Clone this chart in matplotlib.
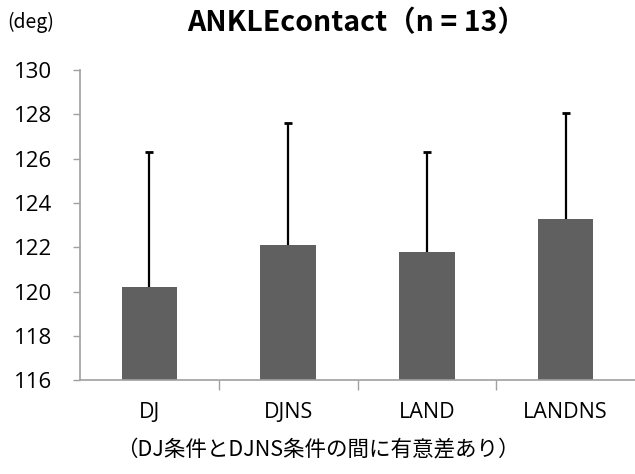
import matplotlib
matplotlib.use('Agg')
import matplotlib.pyplot as plt

# DATA
conditions = ['DJ', 'DJNS', 'LAND', 'LANDNS']
means = [120.2, 122.1, 121.8, 123.3]
sd = [6.1, 5.5, 4.5, 4.75]
yticks = [116, 118, 120, 122, 124, 126, 128, 130]

plt.rcParams['font.family'] = ['Open Sans', 'DejaVu Sans']
jp = ['Noto Sans CJK JP', 'DejaVu Sans']

fig = plt.figure(figsize=(6.35, 4.74), dpi=100)
ax = fig.add_axes([0.126, 0.198, 0.874, 0.654])

x = list(range(len(conditions)))
tops = [m + s for m, s in zip(means, sd)]
ax.bar(x, means, width=0.4, color='#606060', zorder=2)
# upper error bar only
ax.vlines(x, means, tops, color='black', linewidth=1.6, zorder=3)
ax.scatter(x, tops, marker='_', s=35, color='black', linewidths=2, zorder=3)

ax.set_xlim(-0.5, 3.5)
ax.set_ylim(116, 130)
ax.set_yticks(yticks)
ax.tick_params(axis='y', labelsize=16, length=5, color='#a0a0a0', width=1, pad=15)

# category labels without ticks, separator ticks between categories
ax.set_xticks([0.5, 1.5, 2.5])
ax.set_xticklabels([])
ax.set_xticks(x, minor=True)
ax.set_xticklabels(conditions, minor=True)
ax.tick_params(axis='x', which='major', length=7, color='#a0a0a0', width=1)
ax.tick_params(axis='x', which='minor', length=0, labelsize=15.5, pad=16)

for s in ['top', 'right']:
    ax.spines[s].set_visible(False)
for s in ['left', 'bottom']:
    ax.spines[s].set_color('#a0a0a0')
    ax.spines[s].set_linewidth(1.2)

fig.text(0.562, 0.951, 'ANKLEcontact\uff08n = 13\uff09', ha='center', va='center',
         fontsize=20.5, fontweight='bold', family=jp)
fig.text(0.012, 0.953, '(deg)', ha='left', va='center', fontsize=14, family=jp)
fig.text(0.5, 0.05, '\uff08DJ条件とDJNS条件の間に有意差あり\uff09', ha='center', va='center',
         fontsize=15.5, family=jp)

fig.savefig('out.png', dpi=100)
